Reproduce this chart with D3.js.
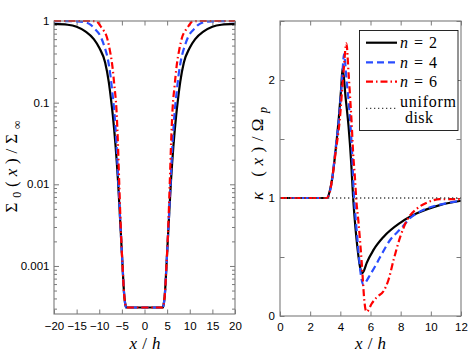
<!DOCTYPE html>
<html><head><meta charset="utf-8">
<script src="https://cdn.jsdelivr.net/npm/d3@7"></script>
<style>body{margin:0;background:#fff}svg{display:block}</style>
</head><body>
<svg id="c" width="474" height="354"></svg>
<script>
// ---------- Left panel data: Sigma_0(x)/Sigma_inf ----------
const sigX_n2 = [-20,-17,-15,-13,-11.2,-10,-8.7,-7.9,-7.4,-7.0,-6.4,-5.85,-5.3,-4.85,-4.5,-4.25,-4.0,-3.7,3.7,4.0,4.25,4.5,4.85,5.3,5.85,6.4,7.0,7.4,7.9,8.7,10,11.2,13,15,17,20];
const sigY_n2 = [0.92,0.90,0.85,0.74,0.60,0.47,0.31,0.18,0.11,0.07,0.03,0.011,0.003,0.001,0.00045,0.00034,0.00031,0.00031,0.00031,0.00031,0.00034,0.00045,0.001,0.003,0.011,0.03,0.07,0.11,0.18,0.31,0.47,0.60,0.74,0.85,0.90,0.92];
const sigX_n4 = [-20,-15,-13.5,-12.7,-11.8,-10.9,-9.75,-8.9,-8.1,-7.5,-7.1,-6.65,-6.2,-5.75,-5.3,-4.85,-4.5,-4.25,-4.0,-3.7,3.7,4.0,4.25,4.5,4.85,5.3,5.75,6.2,6.65,7.1,7.5,8.1,8.9,9.75,10.9,11.8,12.7,13.5,15,20];
const sigY_n4 = [0.998,0.99,0.975,0.95,0.89,0.79,0.655,0.495,0.34,0.21,0.133,0.075,0.032,0.01,0.003,0.001,0.00045,0.00034,0.00031,0.00031,0.00031,0.00031,0.00034,0.00045,0.001,0.003,0.01,0.032,0.075,0.133,0.21,0.34,0.495,0.655,0.79,0.89,0.95,0.975,0.99,0.998];
const sigX_n6 = [-20,-12,-10.6,-9.75,-9.0,-8.4,-7.7,-7.1,-6.65,-6.2,-5.9,-5.6,-5.25,-4.85,-4.5,-4.25,-4.0,-3.7,3.7,4.0,4.25,4.5,4.85,5.25,5.6,5.9,6.2,6.65,7.1,7.7,8.4,9.0,9.75,10.6,12,20];
const sigY_n6 = [1,1,0.985,0.87,0.76,0.655,0.45,0.28,0.16,0.083,0.035,0.011,0.003,0.001,0.00045,0.00034,0.00031,0.00031,0.00031,0.00031,0.00034,0.00045,0.001,0.003,0.011,0.035,0.083,0.16,0.28,0.45,0.655,0.76,0.87,0.985,1,1];
const xTicksL = [-20,-15,-10,-5,0,5,10,15,20];
const xTickLabelsL = ["\u221220","\u221215","\u221210","\u22125","0","5","10","15","20"];
const yTicksL = [0.001,0.01,0.1,1];
const yTickLabelsL = ["0.001","0.01","0.1","1"];

// ---------- Right panel data: kappa(x)/Omega_p ----------
const kapX_n2 = [0,3.0,3.1,3.3,3.5,3.7,3.9,4.05,4.15,4.35,4.55,4.72,4.85,5.0,5.15,5.3,5.42,5.55,5.75,6.2,6.86,7.97,9.08,10.6,12];
const kapY_n2 = [1,1,1,1.06,1.2,1.42,1.68,1.92,2.1,1.85,1.6,1.3,1.0,0.75,0.56,0.42,0.36,0.38,0.45,0.56,0.67,0.79,0.87,0.94,0.977];
const kapX_n4 = [0,3.0,3.1,3.3,3.5,3.65,3.9,4.1,4.25,4.4,4.55,4.67,4.78,4.88,5.0,5.1,5.25,5.38,5.53,5.75,5.98,6.3,6.64,7.3,7.97,8.63,9.52,10.84,12];
const kapY_n4 = [1,1,1,1.05,1.2,1.38,1.66,1.98,2.22,2.02,1.82,1.62,1.38,1.08,0.85,0.7,0.48,0.33,0.263,0.3,0.35,0.42,0.5,0.644,0.735,0.83,0.9,0.95,0.977];
const kapX_n6 = [0,3.0,3.1,3.3,3.5,3.68,3.96,4.2,4.4,4.55,4.65,4.74,4.85,4.98,5.05,5.2,5.42,5.6,5.68,5.75,6.09,6.42,6.86,7.19,7.53,7.97,8.41,9.08,9.74,10.6,12];
const kapY_n6 = [1,1,1,1.05,1.2,1.38,1.66,2.05,2.31,2.05,1.85,1.66,1.38,1.15,1.0,0.8,0.45,0.12,0.05,0.036,0.107,0.16,0.21,0.305,0.475,0.67,0.81,0.91,0.96,0.99,0.99];
const uniX = [0,12];
const uniY = [1,1];
const xTicksR = [0,2,4,6,8,10,12];
const yTicksR = [0,0.5,1,1.5,2,2.5];
const yTickLabelsR = ["0","","1","","2",""];

const legendLabels = ["n = 2","n = 4","n = 6"];

// ---------- styles ----------
const series = [
  {color:"#000000", dash:null, w:2.2},
  {color:"#2a4dff", dash:"7,4", w:2.2},
  {color:"#ff0000", dash:"7,3,1.5,3", w:2.2}
];
const AX = "#7a7a7a";
const TF = "Liberation Sans, Arial, sans-serif";
const SF = "Liberation Serif, Times New Roman, serif";

const svg = d3.select("#c");
svg.append("rect").attr("width",474).attr("height",354).attr("fill","#fff");

function drawFrame(g, x0,y0,x1,y1){
  g.append("rect").attr("x",x0).attr("y",y0).attr("width",x1-x0).attr("height",y1-y0)
   .attr("fill","none").attr("stroke",AX).attr("stroke-width",1.1);
}
function styleAxis(sel, showText){
  sel.select(".domain").remove();
  sel.selectAll(".tick line").attr("stroke",AX).attr("stroke-width",1);
  sel.selectAll(".tick text").attr("fill","#000").style("font-family",TF).style("font-size","11.5px");
  if(!showText) sel.selectAll(".tick text").remove();
}

// ---------- Left panel ----------
const L = {x0:54, x1:235, y0:21, y1:314};
const xL = d3.scaleLinear().domain([-20,20]).range([L.x0,L.x1]);
const yL = d3.scaleLog().domain([2.58e-4,1]).range([L.y1,L.y0]);
const gL = svg.append("g");
svg.append("clipPath").attr("id","clipL").append("rect")
  .attr("x",L.x0).attr("y",L.y0-1).attr("width",L.x1-L.x0).attr("height",L.y1-L.y0+1);

const minorL = [];
for(let e=-4;e<=0;e++) for(let m=2;m<=9;m++){const v=m*Math.pow(10,e); if(v>=2.58e-4 && v<1) minorL.push(v);}

gL.append("g").attr("transform",`translate(0,${L.y1})`)
  .call(d3.axisBottom(xL).tickValues(xTicksL).tickFormat((d,i)=>xTickLabelsL[i]).tickSizeInner(-4.5).tickSizeOuter(0).tickPadding(7.5))
  .call(s=>styleAxis(s,true));
gL.append("g").attr("transform",`translate(0,${L.y0})`)
  .call(d3.axisTop(xL).tickValues(xTicksL).tickSizeInner(-4.5).tickSizeOuter(0))
  .call(s=>styleAxis(s,false));
gL.append("g").attr("transform",`translate(${L.x0},0)`)
  .call(d3.axisLeft(yL).tickValues(yTicksL).tickFormat((d,i)=>yTickLabelsL[i]).tickSizeInner(-5).tickSizeOuter(0).tickPadding(4.5))
  .call(s=>styleAxis(s,true));
gL.append("g").attr("transform",`translate(${L.x0},0)`)
  .call(d3.axisLeft(yL).tickValues(minorL).tickSizeInner(-3).tickSizeOuter(0))
  .call(s=>styleAxis(s,false));
gL.append("g").attr("transform",`translate(${L.x1},0)`)
  .call(d3.axisRight(yL).tickValues(yTicksL).tickSizeInner(-5).tickSizeOuter(0))
  .call(s=>styleAxis(s,false));
gL.append("g").attr("transform",`translate(${L.x1},0)`)
  .call(d3.axisRight(yL).tickValues(minorL).tickSizeInner(-3).tickSizeOuter(0))
  .call(s=>styleAxis(s,false));

const lineL = d3.line().x(d=>xL(d[0])).y(d=>yL(d[1])).curve(d3.curveMonotoneX);
const leftData = [d3.zip(sigX_n2,sigY_n2), d3.zip(sigX_n4,sigY_n4), d3.zip(sigX_n6,sigY_n6)];
const plotL = gL.append("g").attr("clip-path","url(#clipL)");
leftData.forEach((d,i)=>{
  plotL.append("path").attr("d",lineL(d)).attr("fill","none")
    .attr("stroke",series[i].color).attr("stroke-width",series[i].w)
    .attr("stroke-dasharray",series[i].dash).attr("stroke-linejoin","round");
});
drawFrame(gL,L.x0,L.y0,L.x1,L.y1);

// ---------- Right panel ----------
const R = {x0:280, x1:461, y0:21, y1:316};
const xR = d3.scaleLinear().domain([0,12]).range([R.x0,R.x1]);
const yR = d3.scaleLinear().domain([0,2.5]).range([R.y1,R.y0]);
const gR = svg.append("g");
svg.append("clipPath").attr("id","clipR").append("rect")
  .attr("x",R.x0).attr("y",R.y0).attr("width",R.x1-R.x0).attr("height",R.y1-R.y0);

gR.append("g").attr("transform",`translate(0,${R.y1})`)
  .call(d3.axisBottom(xR).tickValues(xTicksR).tickFormat(d3.format("d")).tickSizeInner(-4.5).tickSizeOuter(0).tickPadding(6.5))
  .call(s=>styleAxis(s,true));
gR.append("g").attr("transform",`translate(0,${R.y0})`)
  .call(d3.axisTop(xR).tickValues(xTicksR).tickSizeInner(-4.5).tickSizeOuter(0))
  .call(s=>styleAxis(s,false));
gR.append("g").attr("transform",`translate(${R.x0},0)`)
  .call(d3.axisLeft(yR).tickValues(yTicksR).tickFormat((d,i)=>yTickLabelsR[i]).tickSizeInner(-4.5).tickSizeOuter(0).tickPadding(5))
  .call(s=>styleAxis(s,true));
gR.append("g").attr("transform",`translate(${R.x1},0)`)
  .call(d3.axisRight(yR).tickValues(yTicksR).tickSizeInner(-4.5).tickSizeOuter(0))
  .call(s=>styleAxis(s,false));

const lineR = d3.line().x(d=>xR(d[0])).y(d=>yR(d[1])).curve(d3.curveMonotoneX);
const rightData = [d3.zip(kapX_n2,kapY_n2), d3.zip(kapX_n4,kapY_n4), d3.zip(kapX_n6,kapY_n6)];
const plotR = gR.append("g").attr("clip-path","url(#clipR)");
rightData.forEach((d,i)=>{
  plotR.append("path").attr("d",lineR(d)).attr("fill","none")
    .attr("stroke",series[i].color).attr("stroke-width",series[i].w)
    .attr("stroke-dasharray",series[i].dash).attr("stroke-linejoin","round");
});
plotR.append("path").attr("d",d3.line().x(d=>xR(d[0])).y(d=>yR(d[1]))(d3.zip(uniX,uniY)))
  .attr("fill","none").attr("stroke","#444").attr("stroke-width",1.3).attr("stroke-dasharray","1.3,2.7");
drawFrame(gR,R.x0,R.y0,R.x1,R.y1);

// ---------- Legend ----------
const lg = svg.append("g");
lg.append("rect").attr("x",359.5).attr("y",30.5).attr("width",98.5).attr("height",100)
  .attr("fill","#fff").attr("stroke","#111").attr("stroke-width",0.9);
const rowsY = [42.7,62.3,81.7];
legendLabels.forEach((lab,i)=>{
  lg.append("line").attr("x1",366).attr("x2",397).attr("y1",rowsY[i]).attr("y2",rowsY[i])
    .attr("stroke",series[i].color).attr("stroke-width",series[i].w).attr("stroke-dasharray",series[i].dash);
  const t = lg.append("text").attr("x",400).attr("y",rowsY[i]+5.6)
    .style("font-family",SF).style("font-size","16px")
    .attr("textLength",37).attr("lengthAdjust","spacing");
  const parts = lab.split(" ");
  t.append("tspan").style("font-style","italic").text(parts[0]);
  t.append("tspan").text(" " + parts[1] + " " + parts[2]);
});
lg.append("line").attr("x1",366).attr("x2",397).attr("y1",108.3).attr("y2",108.3)
  .attr("stroke","#444").attr("stroke-width",1.3).attr("stroke-dasharray","1.3,2.7");
lg.append("text").attr("x",400).attr("y",107.3).style("font-family",SF).style("font-size","16px")
  .attr("textLength",56).attr("lengthAdjust","spacing").text("uniform");
lg.append("text").attr("x",405).attr("y",123.3).style("font-family",SF).style("font-size","16px")
  .attr("textLength",28).attr("lengthAdjust","spacing").text("disk");

// ---------- Axis labels ----------
function xLabel(cx){
  const t = svg.append("text").attr("x",cx).attr("y",348.5).attr("text-anchor","middle")
    .style("font-family",SF).style("font-size","17px")
    .attr("textLength",31).attr("lengthAdjust","spacing");
  t.append("tspan").style("font-style","italic").text("x");
  t.append("tspan").text("/");
  t.append("tspan").style("font-style","italic").text("h");
}
xLabel(145);
xLabel(370.5);

// left y label: Sigma_0(x)/Sigma_inf
{
  const t = svg.append("text").attr("transform","translate(17,166.5) rotate(-90)")
    .attr("text-anchor","middle").style("font-family",SF).style("font-size","17px")
    .attr("textLength",92).attr("lengthAdjust","spacing");
  t.append("tspan").text("\u03A3");
  t.append("tspan").attr("dy",4).style("font-size","12px").text("0");
  t.append("tspan").attr("dy",-4).text("(");
  t.append("tspan").style("font-style","italic").text("x");
  t.append("tspan").text(")/\u03A3");
  t.append("tspan").attr("dy",4).style("font-size","12px").text("\u221E");
}
// right y label: kappa(x)/Omega_p
{
  const t = svg.append("text").attr("transform","translate(263,153.5) rotate(-90)")
    .attr("text-anchor","middle").style("font-family",SF).style("font-size","17px")
    .attr("textLength",93).attr("lengthAdjust","spacing");
  t.append("tspan").style("font-style","italic").text("\u03BA");
  t.append("tspan").text(" (");
  t.append("tspan").style("font-style","italic").text("x");
  t.append("tspan").text(")/\u03A9");
  t.append("tspan").attr("dy",4).style("font-size","12px").style("font-style","italic").text("p");
}
</script>
</body></html>
